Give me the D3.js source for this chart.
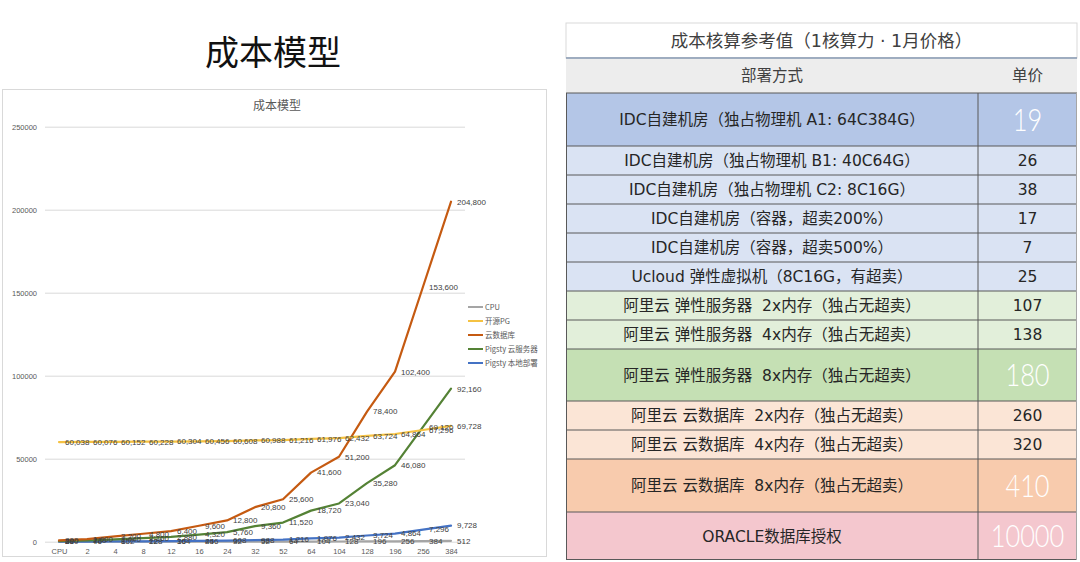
<!DOCTYPE html>
<html><head><meta charset="utf-8">
<script src="https://cdn.jsdelivr.net/npm/d3@7"></script>
<style>
html,body{margin:0;padding:0;background:#fff;}
svg{display:block;}
</style>
</head><body>
<svg id="c" width="1080" height="562"></svg>
<script>
// ---------- chart data ----------
const categories = ["CPU","2","4","8","12","16","24","32","52","64","104","128","196","256","384"];
const seriesNames = ["CPU","开源PG","云数据库","Pigsty 云服务器","Pigsty 本地部署"];
const cpuValues = [2,4,8,12,16,24,32,52,64,104,128,196,256,384,512];
const pgValues = [60038,60076,60152,60228,60304,60456,60608,60988,61216,61976,62432,63724,64864,67296,69728];
const cloudDbValues = [800,1600,3200,4800,6400,9600,12800,20800,25600,41600,51200,78400,102400,153600,204800];
const pigstyCloudValues = [360,720,1440,2160,2880,4320,5760,9360,11520,18720,23040,35280,46080,69120,92160];
const pigstyLocalValues = [38,76,152,228,304,456,608,988,1216,1976,2432,3724,4864,7296,9728];
const yTickValues = [0,50000,100000,150000,200000,250000];

// ---------- table data ----------
const tableTitle = "成本核算参考值（1核算力 · 1月价格）";
const tableHeaders = ["部署方式","单价"];
const deployMethods = [
  "IDC自建机房（独占物理机 A1: 64C384G）",
  "IDC自建机房（独占物理机 B1: 40C64G）",
  "IDC自建机房（独占物理机 C2: 8C16G）",
  "IDC自建机房（容器，超卖200%）",
  "IDC自建机房（容器，超卖500%）",
  "Ucloud 弹性虚拟机（8C16G，有超卖）",
  "阿里云 弹性服务器  2x内存（独占无超卖）",
  "阿里云 弹性服务器  4x内存（独占无超卖）",
  "阿里云 弹性服务器  8x内存（独占无超卖）",
  "阿里云 云数据库  2x内存（独占无超卖）",
  "阿里云 云数据库  4x内存（独占无超卖）",
  "阿里云 云数据库  8x内存（独占无超卖）",
  "ORACLE数据库授权"
];
const unitPrices = ["19","26","38","17","7","25","107","138","180","260","320","410","10000"];

// ---------- styles ----------
const seriesColors = ["#a5a5a5","#f5c242","#c55a11","#548235","#4472c4"];
const drawOrder = [0,4,3,2,1];
const rowFills = ["#b4c6e7","#dae3f3","#dae3f3","#dae3f3","#dae3f3","#dae3f3","#e2efda","#e2efda","#c5e0b4","#fbe5d6","#fbe5d6","#f8cbad","#f4c7ce"];
const rowHeights = [53,29,29,29,29,29,29,29,52,29,29,53,48];
const bigRows = [0,8,11,12];

const svg = d3.select("#c");
svg.append("rect").attr("width",1080).attr("height",562).attr("fill","#fff");

// page title
svg.append("text").attr("x",273).attr("y",65).attr("text-anchor","middle")
  .attr("font-family","'Noto Sans CJK SC'").attr("font-size",34).attr("fill","#111")
  .text("成本模型");

// chart frame
svg.append("rect").attr("x",2.5).attr("y",89.5).attr("width",544).attr("height",467)
  .attr("fill","#fff").attr("stroke","#d9d9d9");
svg.append("text").attr("x",277).attr("y",110).attr("text-anchor","middle")
  .attr("font-family","'Noto Sans CJK SC'").attr("font-size",12).attr("fill","#595959")
  .text("成本模型");

const x = d3.scalePoint().domain(categories).range([45,465]).padding(0.5);
const y = d3.scaleLinear().domain([0,250000]).range([541.7,126.7]);

const yAxis = svg.append("g").attr("transform","translate(45,0)")
  .call(d3.axisLeft(y).tickValues(yTickValues).tickFormat(d3.format("d")).tickSize(-420).tickPadding(8));
yAxis.select(".domain").remove();
yAxis.selectAll("line").attr("stroke","#d9d9d9");
yAxis.selectAll("text").attr("font-family","'Liberation Sans'").attr("font-size",7.5).attr("fill","#595959");

const xAxis = svg.append("g").attr("transform","translate(0,541.7)")
  .call(d3.axisBottom(x).tickSize(0).tickPadding(7));
xAxis.select(".domain").remove();
xAxis.selectAll("text").attr("font-family","'Liberation Sans'").attr("font-size",7.5).attr("fill","#595959");

const allSeries = [cpuValues,pgValues,cloudDbValues,pigstyCloudValues,pigstyLocalValues];
const line = d3.line().x((d,i)=>x(categories[i])).y(d=>y(d));
drawOrder.forEach(si=>{
  svg.append("path").datum(allSeries[si]).attr("d",line)
    .attr("fill","none").attr("stroke",seriesColors[si]).attr("stroke-width",2.2)
    .attr("stroke-linejoin","round").attr("stroke-linecap","round");
});
const fmt = d3.format(",");
drawOrder.forEach(si=>{
  svg.append("g").selectAll("text").data(allSeries[si]).join("text")
    .attr("x",(d,i)=>x(categories[i])+6).attr("y",d=>y(d)+2.8)
    .attr("font-family","'Liberation Sans'").attr("font-size",8).attr("fill","#404040")
    .text(d=>fmt(d));
});

// legend
const lg = svg.append("g");
seriesNames.forEach((n,i)=>{
  const yy = 307 + i*14;
  lg.append("line").attr("x1",468).attr("x2",483).attr("y1",yy).attr("y2",yy)
    .attr("stroke",seriesColors[i]).attr("stroke-width",2);
  lg.append("text").attr("x",485).attr("y",yy+2.6)
    .attr("font-family","'Noto Sans CJK SC'").attr("font-size",7.5).attr("fill","#595959").text(n);
});

// ---------- table ----------
const tL = 566, tR = 1077, tDiv = 978;
const tf = "'DejaVu Sans','Noto Sans CJK SC'";
svg.append("rect").attr("x",tL).attr("y",23).attr("width",tR-tL).attr("height",35)
  .attr("fill","#fff").attr("stroke","#d9d9d9");
svg.append("text").attr("x",(tL+tR)/2).attr("y",47).attr("text-anchor","middle")
  .attr("font-family",tf).attr("font-size",17.5).attr("fill","#404040").text(tableTitle);
svg.append("rect").attr("x",tL).attr("y",58).attr("width",tR-tL).attr("height",35).attr("fill","#ededed");
svg.append("line").attr("x1",tL).attr("x2",tR).attr("y1",58).attr("y2",58).attr("stroke","#8497b0").attr("stroke-width",1.5);
svg.append("text").attr("x",(tL+tDiv)/2).attr("y",81).attr("text-anchor","middle")
  .attr("font-family",tf).attr("font-size",15.5).attr("fill","#404040").text(tableHeaders[0]);
svg.append("text").attr("x",(tDiv+tR)/2).attr("y",81).attr("text-anchor","middle")
  .attr("font-family",tf).attr("font-size",15.5).attr("fill","#404040").text(tableHeaders[1]);

let yPos = 93;
const rowTops = rowHeights.map(h=>{const t=yPos; yPos+=h; return t;});
const rows = svg.append("g").selectAll("g").data(deployMethods).join("g")
  .attr("transform",(d,i)=>`translate(0,${rowTops[i]})`);
rows.append("rect").attr("x",tL).attr("width",tR-tL).attr("height",(d,i)=>rowHeights[i])
  .attr("fill",(d,i)=>rowFills[i]);
rows.append("text").attr("x",(tL+tDiv)/2).attr("y",(d,i)=>rowHeights[i]/2+5.5)
  .attr("text-anchor","middle").attr("font-family",tf).attr("font-size",15.5).attr("fill","#262626")
  .attr("xml:space","preserve").text(d=>d);
rows.append("text")
  .attr("transform",(d,i)=>bigRows.includes(i)
      ? `translate(${(tDiv+tR)/2},${rowHeights[i]/2+11}) scale(0.82,1)`
      : `translate(${(tDiv+tR)/2},${rowHeights[i]/2+5.5})`)
  .attr("text-anchor","middle").attr("font-family",(d,i)=>bigRows.includes(i)?"Lato":tf)
  .attr("font-weight",(d,i)=>bigRows.includes(i)?300:400)
  .attr("font-size",(d,i)=>bigRows.includes(i)?31:15.5)
  .attr("fill",(d,i)=>bigRows.includes(i)?"#fff":"#262626")
  .text((d,i)=>unitPrices[i]);
// separators
rowTops.forEach(t=>{
  svg.append("line").attr("x1",tL).attr("x2",tR).attr("y1",t).attr("y2",t).attr("stroke","#595959").attr("stroke-width",1);
});
svg.append("line").attr("x1",tL).attr("x2",tR).attr("y1",yPos-0.5).attr("y2",yPos-0.5).attr("stroke","#595959");
svg.append("line").attr("x1",tDiv).attr("x2",tDiv).attr("y1",93).attr("y2",yPos).attr("stroke","#595959");
svg.append("line").attr("x1",tL+0.5).attr("x2",tL+0.5).attr("y1",93).attr("y2",yPos).attr("stroke","#595959");
svg.append("line").attr("x1",tR-0.5).attr("x2",tR-0.5).attr("y1",93).attr("y2",yPos).attr("stroke","#a6a6a6");
</script>
</body></html>
